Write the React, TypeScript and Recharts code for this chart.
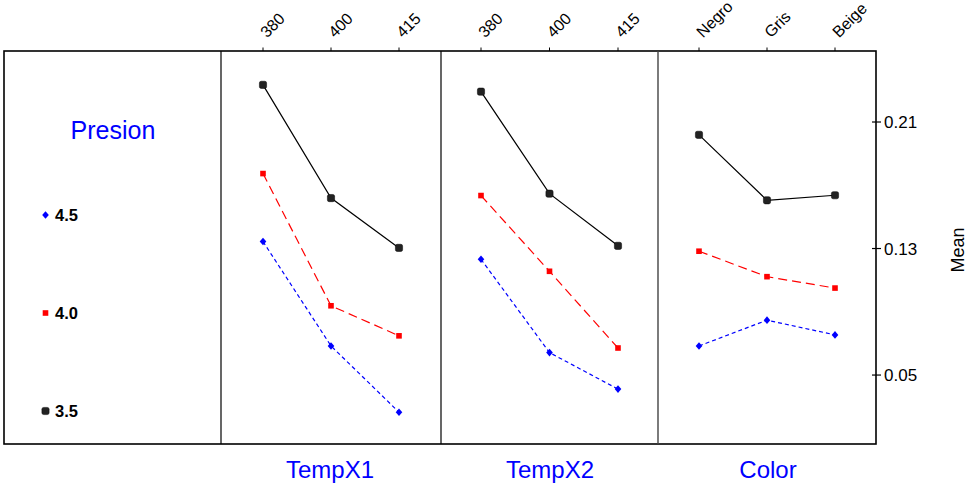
import React from 'react';
import { LineChart, Line, XAxis, YAxis } from 'recharts';

const FONT = 'Liberation Sans, Arial, sans-serif';

// Factor levels
const tempX1Levels = ['380', '400', '415'];
const tempX2Levels = ['380', '400', '415'];
const colorLevels = ['Negro', 'Gris', 'Beige'];

// Means for Presion = 3.5 / 4.0 / 4.5
const tempX1P35 = [0.2335, 0.1619, 0.1304];
const tempX1P40 = [0.1774, 0.0938, 0.0748];
const tempX1P45 = [0.1344, 0.0684, 0.0265];

const tempX2P35 = [0.2292, 0.1647, 0.1317];
const tempX2P40 = [0.1635, 0.1156, 0.0671];
const tempX2P45 = [0.1232, 0.0642, 0.0411];

const colorP35 = [0.2019, 0.1605, 0.1637];
const colorP40 = [0.1283, 0.1122, 0.105];
const colorP45 = [0.0684, 0.0847, 0.0754];

const yTicks = [0.05, 0.13, 0.21];
const yDomain = [0.0064, 0.2549];

const legendLevels = ['4.5', '4.0', '3.5'];

const build = (levels: string[], a: number[], b: number[], c: number[]) =>
  levels.map((l, i) => ({ level: l, p35: a[i], p40: b[i], p45: c[i] }));

const panelData = [
  build(tempX1Levels, tempX1P35, tempX1P40, tempX1P45),
  build(tempX2Levels, tempX2P35, tempX2P40, tempX2P45),
  build(colorLevels, colorP35, colorP40, colorP45),
];

const BlackDot = (p: any) => (
  <rect x={p.cx - 3.6} y={p.cy - 3.6} width={7.2} height={7.2} rx={1.8} fill="#222" stroke="#000" strokeWidth={0.5} />
);
const RedDot = (p: any) => (
  <rect x={p.cx - 2.8} y={p.cy - 2.8} width={5.6} height={5.6} fill="#ff0000" />
);
const BlueDot = (p: any) => (
  <path d={`M${p.cx},${p.cy - 3.8} L${p.cx + 3.3},${p.cy} L${p.cx},${p.cy + 3.8} L${p.cx - 3.3},${p.cy} Z`} fill="#0000ff" />
);

const TopTick = (p: any) => {
  const { x, payload } = p;
  return (
    <g>
      <line x1={x} x2={x} y1={47.5} y2={51} stroke="#000" strokeWidth={1} />
      <g transform={`translate(${x + 4},${38.5})`}>
        <text transform="rotate(-45)" textAnchor="start" fontFamily={FONT} fontSize={16} fill="#000">
          {payload.value}
        </text>
      </g>
    </g>
  );
};

const RightTick = (p: any) => {
  const { x, y, payload } = p;
  return (
    <g>
      <line x1={x - 4} x2={x + 5} y1={y} y2={y} stroke="#000" strokeWidth={1.2} />
      <text x={x + 8} y={y} dy={6} textAnchor="start" fontFamily={FONT} fontSize={17} fill="#000">
        {payload.value.toFixed(2)}
      </text>
    </g>
  );
};

const panels = [
  { left: 221, width: 220, pad: 42 },
  { left: 441, width: 217, pad: 40 },
  { left: 658, width: 218, pad: 41 },
];

const Panel = ({ idx }: { idx: number }) => {
  const cfg = panels[idx];
  const last = idx === 2;
  const w = cfg.width + (last ? 91 : 0);
  return (
    <div style={{ position: 'absolute', left: cfg.left, top: 0 }}>
      <LineChart
        width={w}
        height={484}
        data={panelData[idx]}
        margin={{ top: 0, right: 0, bottom: 40, left: 0 }}
        style={{ overflow: 'visible' }}
      >
        <XAxis
          dataKey="level"
          orientation="top"
          height={51}
          axisLine={false}
          tickLine={false}
          tickSize={3}
          tick={<TopTick />}
          padding={{ left: cfg.pad, right: cfg.pad }}
          interval={0}
        />
        <YAxis
          orientation="right"
          domain={yDomain}
          ticks={yTicks}
          hide={!last}
          width={last ? 91 : 0}
          axisLine={false}
          tickLine={false}
          tickSize={0}
          tickMargin={0}
          tick={<RightTick />}
          allowDataOverflow
        />
        <Line dataKey="p35" stroke="#000" strokeWidth={1.2} dot={<BlackDot />} isAnimationActive={false} />
        <Line dataKey="p40" stroke="#ff0000" strokeWidth={1.2} strokeDasharray="9 5" dot={<RedDot />} isAnimationActive={false} />
        <Line dataKey="p45" stroke="#0000ff" strokeWidth={1.2} strokeDasharray="4 3" dot={<BlueDot />} isAnimationActive={false} />
      </LineChart>
    </div>
  );
};

const legendY = [215, 313, 411];

export default function App() {
  return (
    <div style={{ position: 'absolute', left: 0, top: 0, width: 967, height: 484, background: '#fff', fontFamily: FONT }}>
      <svg width={967} height={484} style={{ position: 'absolute', left: 0, top: 0 }}>
        <rect x={4} y={51} width={872} height={393} fill="none" stroke="#000" strokeWidth={1.6} />
        <line x1={221} x2={221} y1={51} y2={444} stroke="#000" strokeWidth={1.2} />
        <line x1={441} x2={441} y1={51} y2={444} stroke="#000" strokeWidth={1.2} />
        <line x1={658} x2={658} y1={51} y2={444} stroke="#444" strokeWidth={1.4} />
        <text x={113} y={139} textAnchor="middle" fontFamily={FONT} fontSize={25} fill="#0000ff">Presion</text>
        {legendLevels.map((l, i) => (
          <g key={l}>
            {i === 0 && <BlueDot cx={45.5} cy={legendY[i]} />}
            {i === 1 && <RedDot cx={45.5} cy={legendY[i]} />}
            {i === 2 && <BlackDot cx={45.5} cy={legendY[i]} />}
            <text x={55} y={legendY[i] + 6} fontFamily={FONT} fontSize={16.5} fontWeight="bold" fill="#000">{l}</text>
          </g>
        ))}
        <text x={330} y={478} textAnchor="middle" fontFamily={FONT} fontSize={24} fill="#0000ff">TempX1</text>
        <text x={550} y={478} textAnchor="middle" fontFamily={FONT} fontSize={24} fill="#0000ff">TempX2</text>
        <text x={768} y={478} textAnchor="middle" fontFamily={FONT} fontSize={24} fill="#0000ff">Color</text>
        <text transform="translate(964,250) rotate(-90)" textAnchor="middle" fontFamily={FONT} fontSize={18} fill="#000">Mean</text>
      </svg>
      <Panel idx={0} />
      <Panel idx={1} />
      <Panel idx={2} />
    </div>
  );
}
